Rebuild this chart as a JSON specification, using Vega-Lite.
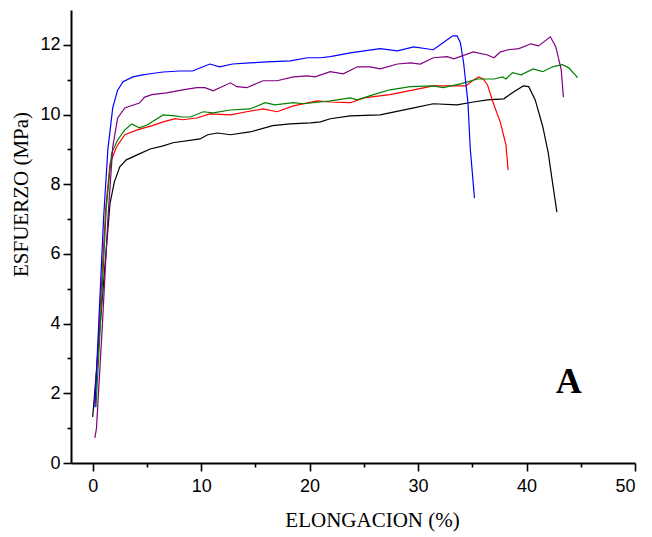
{
  "$schema": "https://vega.github.io/schema/vega-lite/v6.json",
  "width": 564,
  "height": 453,
  "autosize": "none",
  "padding": {"left": 71, "top": 10, "right": 17, "bottom": 74},
  "background": "white",
  "config": {
    "view": {"stroke": null},
    "axis": {
      "grid": false,
      "domainColor": "black",
      "tickColor": "black",
      "labelColor": "black",
      "titleColor": "black",
      "domainWidth": 2,
      "tickWidth": 1.6,
      "labelFont": "Liberation Sans",
      "labelFontSize": 18,
      "titleFont": "Liberation Serif",
      "titleFontSize": 21,
      "titleFontWeight": "normal"
    }
  },
  "datasets": {
    "curves": [
      {"s":"black","x":0.0,"y":1.32},{"s":"black","x":0.8,"y":4.4},{"s":"black","x":1.6,"y":7.46},{"s":"black","x":2.0,"y":8.07},{"s":"black","x":2.5,"y":8.5},{"s":"black","x":3.1,"y":8.7},{"s":"black","x":4.3,"y":8.87},{"s":"black","x":5.3,"y":9.01},{"s":"black","x":6.5,"y":9.1},{"s":"black","x":7.4,"y":9.19},{"s":"black","x":9.9,"y":9.3},{"s":"black","x":10.6,"y":9.42},{"s":"black","x":11.5,"y":9.47},{"s":"black","x":12.7,"y":9.42},{"s":"black","x":14.5,"y":9.5},{"s":"black","x":16.6,"y":9.68},{"s":"black","x":18.2,"y":9.73},{"s":"black","x":20.1,"y":9.76},{"s":"black","x":21.0,"y":9.79},{"s":"black","x":21.9,"y":9.88},{"s":"black","x":23.75,"y":9.96},{"s":"black","x":26.5,"y":9.99},{"s":"black","x":29.6,"y":10.19},{"s":"black","x":31.4,"y":10.31},{"s":"black","x":33.6,"y":10.28},{"s":"black","x":35.1,"y":10.36},{"s":"black","x":36.4,"y":10.42},{"s":"black","x":37.9,"y":10.45},{"s":"black","x":38.8,"y":10.65},{"s":"black","x":39.7,"y":10.82},{"s":"black","x":40.2,"y":10.8},{"s":"black","x":40.8,"y":10.42},{"s":"black","x":41.5,"y":9.65},{"s":"black","x":42.0,"y":8.9},{"s":"black","x":42.4,"y":8.04},{"s":"black","x":42.8,"y":7.2},
      {"s":"red","x":0.2,"y":1.7},{"s":"red","x":0.7,"y":4.5},{"s":"red","x":1.2,"y":7.3},{"s":"red","x":1.6,"y":8.6},{"s":"red","x":2.2,"y":9.07},{"s":"red","x":2.96,"y":9.42},{"s":"red","x":4.1,"y":9.56},{"s":"red","x":5.5,"y":9.68},{"s":"red","x":6.5,"y":9.79},{"s":"red","x":7.6,"y":9.88},{"s":"red","x":8.3,"y":9.85},{"s":"red","x":9.6,"y":9.9},{"s":"red","x":10.8,"y":10.02},{"s":"red","x":12.7,"y":9.99},{"s":"red","x":14.2,"y":10.08},{"s":"red","x":15.7,"y":10.16},{"s":"red","x":17.0,"y":10.08},{"s":"red","x":18.5,"y":10.25},{"s":"red","x":20.7,"y":10.39},{"s":"red","x":21.9,"y":10.36},{"s":"red","x":23.75,"y":10.34},{"s":"red","x":25.0,"y":10.48},{"s":"red","x":27.4,"y":10.57},{"s":"red","x":29.6,"y":10.71},{"s":"red","x":31.4,"y":10.82},{"s":"red","x":33.3,"y":10.82},{"s":"red","x":34.4,"y":10.82},{"s":"red","x":35.0,"y":10.97},{"s":"red","x":35.6,"y":11.08},{"s":"red","x":36.0,"y":11.02},{"s":"red","x":36.4,"y":10.85},{"s":"red","x":36.9,"y":10.36},{"s":"red","x":37.6,"y":9.76},{"s":"red","x":38.1,"y":9.13},{"s":"red","x":38.3,"y":8.41},
      {"s":"green","x":0.3,"y":1.6},{"s":"green","x":0.8,"y":4.5},{"s":"green","x":1.25,"y":7.3},{"s":"green","x":1.75,"y":8.9},{"s":"green","x":2.3,"y":9.27},{"s":"green","x":2.96,"y":9.56},{"s":"green","x":3.6,"y":9.73},{"s":"green","x":4.3,"y":9.62},{"s":"green","x":5.0,"y":9.7},{"s":"green","x":5.3,"y":9.76},{"s":"green","x":6.5,"y":9.99},{"s":"green","x":7.6,"y":9.96},{"s":"green","x":8.2,"y":9.93},{"s":"green","x":9.0,"y":9.93},{"s":"green","x":10.2,"y":10.08},{"s":"green","x":11.1,"y":10.05},{"s":"green","x":12.7,"y":10.13},{"s":"green","x":14.5,"y":10.16},{"s":"green","x":15.9,"y":10.34},{"s":"green","x":16.8,"y":10.28},{"s":"green","x":18.5,"y":10.34},{"s":"green","x":19.4,"y":10.31},{"s":"green","x":21.0,"y":10.36},{"s":"green","x":21.9,"y":10.39},{"s":"green","x":23.75,"y":10.48},{"s":"green","x":24.4,"y":10.42},{"s":"green","x":25.9,"y":10.57},{"s":"green","x":27.4,"y":10.71},{"s":"green","x":29.3,"y":10.8},{"s":"green","x":31.4,"y":10.82},{"s":"green","x":32.3,"y":10.77},{"s":"green","x":33.9,"y":10.88},{"s":"green","x":35.5,"y":11.02},{"s":"green","x":37.0,"y":11.02},{"s":"green","x":37.8,"y":11.08},{"s":"green","x":38.1,"y":11.02},{"s":"green","x":38.7,"y":11.2},{"s":"green","x":39.5,"y":11.14},{"s":"green","x":40.6,"y":11.31},{"s":"green","x":41.5,"y":11.23},{"s":"green","x":42.4,"y":11.37},{"s":"green","x":43.3,"y":11.43},{"s":"green","x":43.9,"y":11.34},{"s":"green","x":44.3,"y":11.2},{"s":"green","x":44.5,"y":11.14},{"s":"green","x":44.7,"y":11.05},
      {"s":"blue","x":0.2,"y":1.6},{"s":"blue","x":0.6,"y":4.3},{"s":"blue","x":1.0,"y":7.0},{"s":"blue","x":1.4,"y":9.0},{"s":"blue","x":1.85,"y":10.2},{"s":"blue","x":2.3,"y":10.7},{"s":"blue","x":2.8,"y":10.94},{"s":"blue","x":3.7,"y":11.08},{"s":"blue","x":4.6,"y":11.14},{"s":"blue","x":5.3,"y":11.17},{"s":"blue","x":6.5,"y":11.22},{"s":"blue","x":8.0,"y":11.25},{"s":"blue","x":9.2,"y":11.25},{"s":"blue","x":10.0,"y":11.35},{"s":"blue","x":10.8,"y":11.45},{"s":"blue","x":11.7,"y":11.37},{"s":"blue","x":12.9,"y":11.45},{"s":"blue","x":14.5,"y":11.48},{"s":"blue","x":16.1,"y":11.51},{"s":"blue","x":18.2,"y":11.54},{"s":"blue","x":19.8,"y":11.63},{"s":"blue","x":21.0,"y":11.63},{"s":"blue","x":21.9,"y":11.66},{"s":"blue","x":23.75,"y":11.77},{"s":"blue","x":26.5,"y":11.89},{"s":"blue","x":28.1,"y":11.83},{"s":"blue","x":29.6,"y":11.94},{"s":"blue","x":31.4,"y":11.86},{"s":"blue","x":32.3,"y":12.06},{"s":"blue","x":33.2,"y":12.26},{"s":"blue","x":33.6,"y":12.26},{"s":"blue","x":33.9,"y":12.06},{"s":"blue","x":34.2,"y":11.48},{"s":"blue","x":34.6,"y":10.34},{"s":"blue","x":34.8,"y":9.07},{"s":"blue","x":35.2,"y":7.6},
      {"s":"purple","x":0.2,"y":0.72},{"s":"purple","x":0.35,"y":1.0},{"s":"purple","x":0.9,"y":4.0},{"s":"purple","x":1.4,"y":7.0},{"s":"purple","x":1.85,"y":9.07},{"s":"purple","x":2.3,"y":9.9},{"s":"purple","x":2.96,"y":10.19},{"s":"purple","x":4.3,"y":10.33},{"s":"purple","x":4.8,"y":10.5},{"s":"purple","x":5.45,"y":10.57},{"s":"purple","x":6.8,"y":10.62},{"s":"purple","x":8.3,"y":10.71},{"s":"purple","x":9.6,"y":10.77},{"s":"purple","x":10.35,"y":10.77},{"s":"purple","x":11.1,"y":10.68},{"s":"purple","x":12.7,"y":10.91},{"s":"purple","x":13.3,"y":10.8},{"s":"purple","x":14.2,"y":10.77},{"s":"purple","x":15.7,"y":10.97},{"s":"purple","x":17.0,"y":10.97},{"s":"purple","x":18.5,"y":11.08},{"s":"purple","x":19.8,"y":11.11},{"s":"purple","x":20.5,"y":11.08},{"s":"purple","x":21.9,"y":11.23},{"s":"purple","x":23.1,"y":11.17},{"s":"purple","x":24.4,"y":11.37},{"s":"purple","x":25.6,"y":11.37},{"s":"purple","x":26.5,"y":11.31},{"s":"purple","x":28.1,"y":11.45},{"s":"purple","x":29.3,"y":11.48},{"s":"purple","x":30.2,"y":11.45},{"s":"purple","x":31.4,"y":11.63},{"s":"purple","x":32.7,"y":11.66},{"s":"purple","x":33.3,"y":11.6},{"s":"purple","x":35.1,"y":11.8},{"s":"purple","x":36.4,"y":11.71},{"s":"purple","x":37.0,"y":11.63},{"s":"purple","x":37.6,"y":11.8},{"s":"purple","x":38.3,"y":11.86},{"s":"purple","x":39.3,"y":11.89},{"s":"purple","x":40.4,"y":12.03},{"s":"purple","x":41.1,"y":11.97},{"s":"purple","x":42.2,"y":12.23},{"s":"purple","x":42.7,"y":11.94},{"s":"purple","x":43.2,"y":11.28},{"s":"purple","x":43.4,"y":10.5}
    ],
    "label": [{"x": 43.9, "y": 2.0, "t": "A"}]
  },
  "layer": [
    {
      "data": {"name": "curves"},
      "mark": {"type": "line", "strokeWidth": 1.2},
      "encoding": {
        "x": {
          "field": "x", "type": "quantitative",
          "scale": {"domain": [-2, 50], "nice": false, "zero": false},
          "axis": {
            "orient": "bottom",
            "values": [0, 10, 20, 30, 40, 50],
            "tickSize": 8,
            "labelPadding": 6,
            "title": "ELONGACION (%)",
            "titleX": 301,
            "titleY": 46,
            "titleAnchor": null
          }
        },
        "y": {
          "field": "y", "type": "quantitative",
          "scale": {"domain": [0, 13], "nice": false, "zero": false},
          "axis": {
            "orient": "left",
            "values": [0, 2, 4, 6, 8, 10, 12],
            "tickSize": 8,
            "labelPadding": 3,
            "title": "ESFUERZO (MPa)",
            "titleX": -40,
            "titleY": 184,
            "titleAnchor": null
          }
        },
        "color": {
          "field": "s", "type": "nominal",
          "scale": {
            "domain": ["black", "red", "green", "blue", "purple"],
            "range": ["#000000", "#ff0000", "#008000", "#0000ff", "#800080"]
          },
          "legend": null
        }
      }
    },
    {
      "data": {"name": "label"},
      "mark": {"type": "text", "font": "Liberation Serif", "fontWeight": "bold", "fontSize": 36, "align": "center", "baseline": "alphabetic", "color": "black"},
      "encoding": {
        "x": {
          "field": "x", "type": "quantitative",
          "scale": {"domain": [-2, 50], "nice": false, "zero": false},
          "axis": {"orient": "bottom", "values": [5, 15, 25, 35, 45], "tickSize": 4, "labels": false, "domain": false, "title": null}
        },
        "y": {
          "field": "y", "type": "quantitative",
          "scale": {"domain": [0, 13], "nice": false, "zero": false},
          "axis": {"orient": "left", "values": [1, 3, 5, 7, 9, 11], "tickSize": 4, "labels": false, "domain": false, "title": null}
        },
        "text": {"field": "t"}
      }
    }
  ],
  "resolve": {"axis": {"x": "independent", "y": "independent"}}
}
